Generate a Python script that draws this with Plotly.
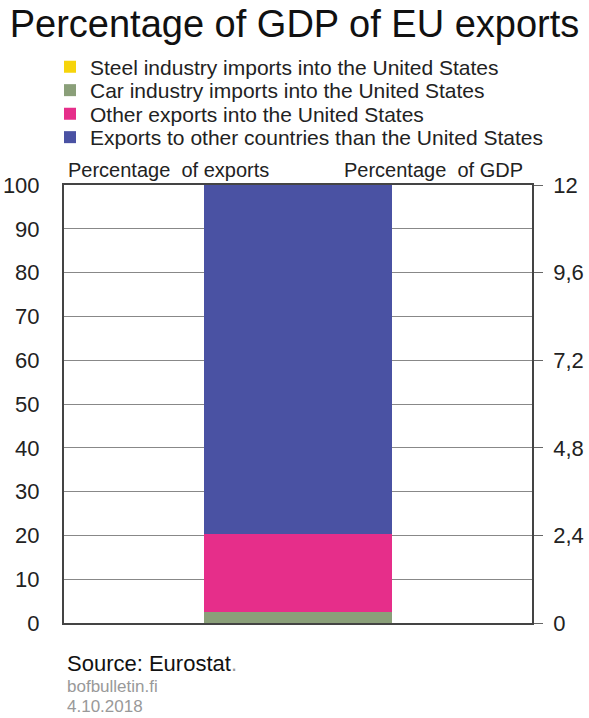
import plotly.graph_objects as go

categories = ["EU exports"]
series_names = [
    "Steel industry imports into the United States",
    "Car industry imports into the United States",
    "Other exports into the United States",
    "Exports to other countries than the United States",
]
series_values = [
    [0.1],
    [2.5],
    [17.8],
    [79.6],
]
series_colors = ["#f6d40b", "#8a9f79", "#e62e8a", "#4a52a3"]
left_ticks = [0, 10, 20, 30, 40, 50, 60, 70, 80, 90, 100]
right_ticks = [0, 2.4, 4.8, 7.2, 9.6, 12]

FONT = "Liberation Sans, Arial, sans-serif"

# plot area geometry (pixels)
W, H = 589, 718
L, R, T, B = 64, 57, 185, 95
PW, PH = W - L - R, H - T - B


def px_x(x):
    return (x - L) / PW


def px_y(y):
    return (H - B - y) / PH


legend_ids = ["legend", "legend2", "legend3", "legend4"]
legend_centers = [67, 90.5, 114, 137.5]

fig = go.Figure()
for name, vals, col, lid in zip(series_names, series_values, series_colors, legend_ids):
    fig.add_trace(go.Bar(x=categories, y=vals, name=name, marker_color=col,
                         marker_line_width=0, width=0.4, legend=lid))
# invisible trace to activate right axis
fig.add_trace(go.Scatter(x=categories, y=[0], yaxis="y2", mode="markers",
                         marker=dict(opacity=0), showlegend=False, hoverinfo="skip"))

legends = {}
for lid, yc in zip(legend_ids, legend_centers):
    legends[lid] = dict(x=px_x(50), xanchor="left", y=px_y(yc), yanchor="middle",
                        font=dict(size=21, color="#222"), bgcolor="rgba(0,0,0,0)",
                        itemclick=False, itemdoubleclick=False)

fig.update_layout(
    width=W, height=H,
    margin=dict(l=L, r=R, t=T, b=B, autoexpand=False),
    paper_bgcolor="white", plot_bgcolor="white",
    barmode="stack",
    separators=", ",
    font=dict(family=FONT, color="#222"),
    title=dict(text="Percentage of GDP of EU exports", x=0.5, xanchor="center",
               xref="container", yref="container", y=1 - 24 / H, yanchor="middle",
               font=dict(size=38, color="#111")),
    xaxis=dict(range=[-0.5, 0.5], showticklabels=False, showgrid=False,
               showline=True, linecolor="#444", linewidth=2, mirror=True, ticks="",
               automargin=False),
    yaxis=dict(range=[0, 100], tickvals=left_ticks, showgrid=True, gridcolor="#888",
               gridwidth=1, showline=True, linecolor="#444", linewidth=2,
               ticks="", ticklabelstandoff=18, tickfont=dict(size=22, color="#222"),
               zeroline=False, automargin=False),
    yaxis2=dict(range=[0, 12], tickvals=right_ticks, overlaying="y", side="right",
                showgrid=False, showline=True, linecolor="#444", linewidth=1.5,
                ticks="outside", ticklen=9, tickcolor="#666", tickwidth=1,
                ticklabelstandoff=6, automargin=False,
                tickfont=dict(size=22, color="#222"), zeroline=False),
    annotations=[
        dict(text="Percentage  of exports", xref="paper", yref="paper", x=px_x(66),
             y=px_y(170), xanchor="left", yanchor="middle", showarrow=False,
             font=dict(size=20, color="#222")),
        dict(text="Percentage  of GDP", xref="paper", yref="paper", x=px_x(525),
             y=px_y(170), xanchor="right", yanchor="middle", showarrow=False,
             font=dict(size=20, color="#222")),
        dict(text="Source: Eurostat<span style='color:#999'>.</span>", xref="paper",
             yref="paper", x=px_x(65), y=px_y(663), xanchor="left", yanchor="middle",
             showarrow=False, font=dict(size=22, color="#111")),
        dict(text="bofbulletin.fi", xref="paper", yref="paper", x=px_x(65), y=px_y(686),
             xanchor="left", yanchor="middle", showarrow=False,
             font=dict(size=17, color="#999")),
        dict(text="4.10.2018", xref="paper", yref="paper", x=px_x(65), y=px_y(706),
             xanchor="left", yanchor="middle", showarrow=False,
             font=dict(size=17, color="#999")),
    ],
    **legends,
)

fig.write_html("out.html")
